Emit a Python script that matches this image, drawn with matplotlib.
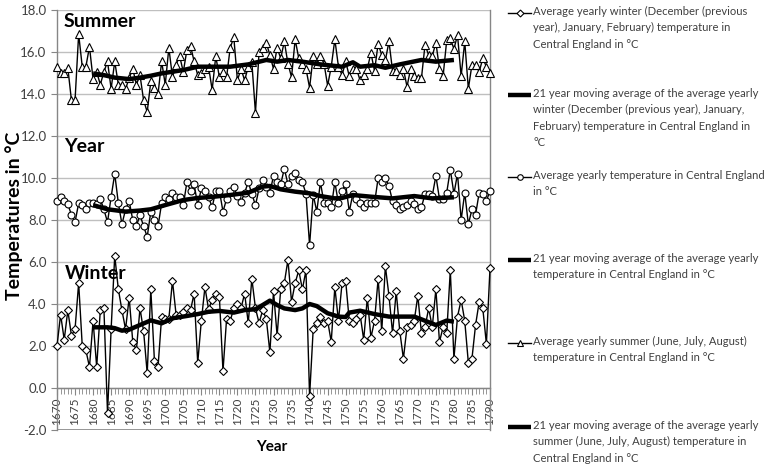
import numpy as np
import matplotlib
matplotlib.use("Agg")
import matplotlib.pyplot as plt
from matplotlib.lines import Line2D
from matplotlib.ticker import MultipleLocator, FormatStrFormatter

plt.rcParams['font.family'] = ['Lato', 'DejaVu Sans']

years = np.arange(1670, 1791)

winter = [2.0, 3.5, 2.3, 3.7, 2.5, 2.8, 5.0, 2.0, 1.8, 1.0,
          3.2, 1.0, 3.7, 3.8, -1.2, 2.8, 6.3, 4.7, 3.7, 2.8,
          4.3, 2.2, 1.8, 3.8, 2.7, 0.7, 4.7, 1.3, 1.0, 3.4,
          3.3, 3.3, 5.1, 3.5, 3.5, 3.6, 3.8, 3.7, 4.5, 1.2,
          3.2, 4.8, 3.75, 4.2, 4.5, 4.35, 0.8, 3.3, 3.2, 3.8,
          4.0, 3.8, 4.5, 3.1, 5.2, 3.8, 3.1, 3.7, 3.3, 1.7,
          4.6, 2.5, 4.7, 5.0, 6.1, 4.1, 5.0, 5.6, 4.7, 5.6,
          -0.4, 2.8, 3.1, 3.4, 3.1, 3.2, 2.2, 4.8, 3.2, 5.0,
          5.1, 3.2, 3.1, 3.3, 3.5, 2.3, 4.3, 2.4, 3.2, 5.2,
          2.7, 5.8, 4.4, 2.6, 4.6, 2.7, 1.4, 2.9, 3.0, 3.2,
          4.4, 2.6, 2.9, 3.8, 2.9, 4.7, 2.2, 2.9, 2.6, 5.6,
          1.4, 3.4, 4.2, 3.2, 1.2, 1.4, 3.0, 4.1, 3.8, 2.1,
          5.7]

annual = [8.9, 9.1, 8.9, 8.75, 8.25, 7.9, 8.8, 8.7, 8.5, 8.8,
          8.8, 8.75, 9.0, 8.5, 7.9, 9.1, 10.2, 8.8, 7.8, 8.5,
          8.9, 8.0, 7.7, 8.25, 7.7, 7.2, 8.4, 8.0, 7.7, 8.8,
          9.1, 9.0, 9.3, 9.1, 9.1, 8.7, 9.8, 9.4, 9.7, 8.7,
          9.5, 9.4, 9.1, 8.6, 9.4, 9.4, 8.4, 9.0, 9.4, 9.55,
          9.15, 8.85, 9.3, 9.8, 9.25, 8.7, 9.5, 9.9, 9.55, 9.3,
          10.1, 9.8, 9.7, 10.45, 9.7, 10.1, 10.25, 9.9, 9.8, 9.25,
          6.8, 9.2, 8.4, 9.8, 8.8, 8.8, 8.6, 9.8, 8.8, 9.4,
          9.7, 8.4, 9.25, 9.0, 8.8, 8.6, 8.8, 8.8, 8.8, 10.0,
          9.8, 10.0, 9.6, 8.9, 8.7, 8.5, 8.6, 8.7, 8.9, 8.75,
          8.5, 8.6, 9.25, 9.25, 9.15, 10.1, 9.0, 9.0, 9.3, 10.4,
          9.25, 10.2, 8.0, 9.3, 7.8, 8.5, 8.25, 9.3, 9.25, 8.9,
          9.4]

summer = [15.3, 15.0, 15.0, 15.25, 13.7, 13.7, 16.85, 15.3, 15.3, 16.25,
          14.7, 15.05, 14.45, 15.05, 15.55, 14.25, 15.55, 14.45, 14.45, 14.25,
          14.75, 15.2, 14.45, 14.9, 13.7, 13.15, 14.6, 14.3, 14.0, 15.55,
          14.45, 16.2, 14.8, 15.4, 15.8, 15.05, 16.1, 16.3, 15.55, 14.9,
          15.0, 15.2, 15.3, 14.2, 15.8, 14.8, 15.05, 14.8, 16.2, 16.7,
          14.65, 15.2, 14.65, 15.3, 15.5, 13.1, 16.0, 16.2, 16.45, 15.85,
          15.2, 16.2, 15.7, 16.5, 15.45, 14.8, 16.6, 15.7, 15.45, 15.2,
          14.3, 15.8, 15.45, 15.8, 15.45, 14.4, 15.3, 16.6, 15.3, 14.9,
          15.55, 14.85, 15.2, 15.2, 14.65, 14.9, 15.2, 15.95, 15.1, 16.4,
          15.85, 15.6, 16.5, 15.1, 15.1, 14.9, 15.2, 14.35, 15.2, 14.85,
          14.75, 14.75, 16.35, 15.85, 15.8, 16.45, 15.2, 14.85, 16.55, 16.65,
          16.15, 16.8, 14.85, 16.5, 14.25, 15.4, 15.4, 15.05, 15.7, 15.3,
          15.0]

# 21-year moving averages
winter_ma_years = [1680, 1684, 1686, 1688, 1690, 1693, 1696, 1699, 1702, 1706, 1709, 1712,
                   1715, 1719, 1722, 1725, 1727, 1729, 1731, 1733, 1736, 1738, 1740, 1742,
                   1745, 1748, 1750, 1751, 1754, 1758, 1762, 1769, 1771, 1775, 1778, 1780]
winter_ma = [2.89, 2.89, 2.85, 2.73, 2.78, 3.0, 3.22, 3.08, 3.32, 3.43, 3.52, 3.63,
             3.67, 3.59, 3.71, 3.75, 3.95, 4.16, 3.95, 3.79, 3.71, 3.79, 4.0, 3.9,
             3.56, 3.4, 3.38, 3.59, 3.68, 3.52, 3.4, 3.4, 3.27, 3.0, 3.21, 3.16]

annual_ma_years = [1680, 1684, 1689, 1693, 1696, 1700, 1705, 1709, 1713, 1718, 1723, 1727,
                   1729, 1732, 1736, 1740, 1743, 1747, 1749, 1752, 1757, 1763, 1769, 1774, 1780]
annual_ma = [8.71, 8.51, 8.4, 8.45, 8.51, 8.71, 8.95, 9.05, 9.1, 9.19, 9.3, 9.59,
             9.62, 9.46, 9.35, 9.27, 9.14, 9.03, 9.05, 9.19, 9.11, 9.03, 9.14, 9.03, 9.08]

summer_ma_years = [1680, 1683, 1686, 1690, 1693, 1696, 1699, 1705, 1709, 1713, 1718, 1723,
                   1728, 1731, 1734, 1738, 1743, 1749, 1752, 1754, 1758, 1761, 1765, 1771,
                   1775, 1780]
summer_ma = [14.98, 14.9, 14.78, 14.71, 14.78, 14.87, 14.98, 15.14, 15.3, 15.3, 15.3, 15.41,
             15.62, 15.54, 15.62, 15.54, 15.41, 15.3, 15.51, 15.3, 15.37, 15.25, 15.41, 15.62,
             15.54, 15.62]

labels = [
    "Average yearly winter (December (previous\nyear), January, February) temperature in\nCentral England in °C",
    "21 year moving average of the average yearly\nwinter (December (previous year), January,\nFebruary) temperature in Central England in\n°C",
    "Average yearly temperature in Central England\nin °C",
    "21 year moving average of the average yearly\ntemperature in Central England in °C",
    "Average yearly summer (June, July, August)\ntemperature in Central England in °C",
    "21 year moving average of the average yearly\nsummer (June, July, August) temperature in\nCentral England in °C",
]

W, H = 768, 468
fig = plt.figure(figsize=(W / 100, H / 100), dpi=100)
ax = fig.add_axes([57 / W, 1 - 430 / H, 433 / W, 420 / H])

TXT = '#404040'
AXC = '#868686'
GRID = '#BFBFBF'

line_kw = dict(color='black', lw=1.0, markerfacecolor='white', markeredgecolor='black',
               markeredgewidth=0.8, clip_on=False, zorder=3)
ax.plot(years, winter, marker='D', markersize=4.0, **line_kw)
ax.plot(winter_ma_years, winter_ma, color='black', lw=3.2, zorder=4, solid_capstyle='butt')
ax.plot(years, annual, marker='o', markersize=5.0, **line_kw)
ax.plot(annual_ma_years, annual_ma, color='black', lw=3.2, zorder=4, solid_capstyle='butt')
ax.plot(years, summer, marker='^', markersize=5.5, **line_kw)
ax.plot(summer_ma_years, summer_ma, color='black', lw=3.2, zorder=4, solid_capstyle='butt')

ax.set_xlim(1670, 1790)
ax.set_ylim(-2, 18)
ax.set_yticks(np.arange(-2, 18.1, 2))
ax.yaxis.set_major_formatter(FormatStrFormatter('%.1f'))
ax.grid(axis='y', color=GRID, lw=1.0, zorder=0)
ax.set_axisbelow(True)

ax.xaxis.set_major_locator(MultipleLocator(5))
ax.xaxis.set_minor_locator(MultipleLocator(1))
ax.spines['bottom'].set_position(('data', 0))
for s in ['bottom', 'left', 'right']:
    ax.spines[s].set_color(AXC)
    ax.spines[s].set_linewidth(1.0)
ax.spines['top'].set_visible(False)
ax.axhline(-2, color=AXC, lw=1.2, zorder=1)

ax.tick_params(axis='x', which='both', direction='out', colors=AXC, labelcolor=TXT,
               labelsize=8.5, labelrotation=90, pad=2)
ax.tick_params(axis='x', which='major', length=5)
ax.tick_params(axis='x', which='minor', length=4)
ax.tick_params(axis='y', direction='out', length=4, colors=AXC, labelcolor=TXT, labelsize=9.5)

ax.text(1671.9, 17.43, 'Summer', fontweight='bold', fontsize=14, va='center', ha='left', color='black')
ax.text(1671.9, 11.48, 'Year', fontweight='bold', fontsize=14, va='center', ha='left', color='black')
ax.text(1672.2, 5.43, 'Winter', fontweight='bold', fontsize=14, va='center', ha='left', color='black')

fig.text(14 / W, 1 - 216 / H, 'Temperatures in °C', rotation=90, fontweight='bold',
         fontsize=14, ha='center', va='center', color='black')
fig.text(272 / W, 1 - 447 / H, 'Year', fontweight='bold', fontsize=11,
         ha='center', va='center', color='black')

# legend (manual)
first_line_y = [12.7, 95, 177, 260, 343, 427]
markers = ['D', None, 'o', None, '^', None]
msizes = [3.5, 0, 4.0, 0, 4.5, 0]
for lab, yy, mk, ms in zip(labels, first_line_y, markers, msizes):
    yf = 1 - yy / H
    if mk is None:
        fig.add_artist(Line2D([508 / W, 531 / W], [yf, yf], color='black', lw=3.2,
                              transform=fig.transFigure, solid_capstyle='butt'))
    else:
        fig.add_artist(Line2D([508 / W, 531 / W], [yf, yf], color='black', lw=1.0,
                              transform=fig.transFigure))
        fig.add_artist(Line2D([519.5 / W], [yf], marker=mk, markersize=ms, markerfacecolor='white',
                              markeredgecolor='black', markeredgewidth=0.8, lw=0,
                              transform=fig.transFigure))
    fig.text(533 / W, 1 - (yy - 7.0) / H, lab, fontsize=8.1, color=TXT, ha='left', va='top',
             linespacing=1.6)

fig.savefig('out.png', dpi=100)
